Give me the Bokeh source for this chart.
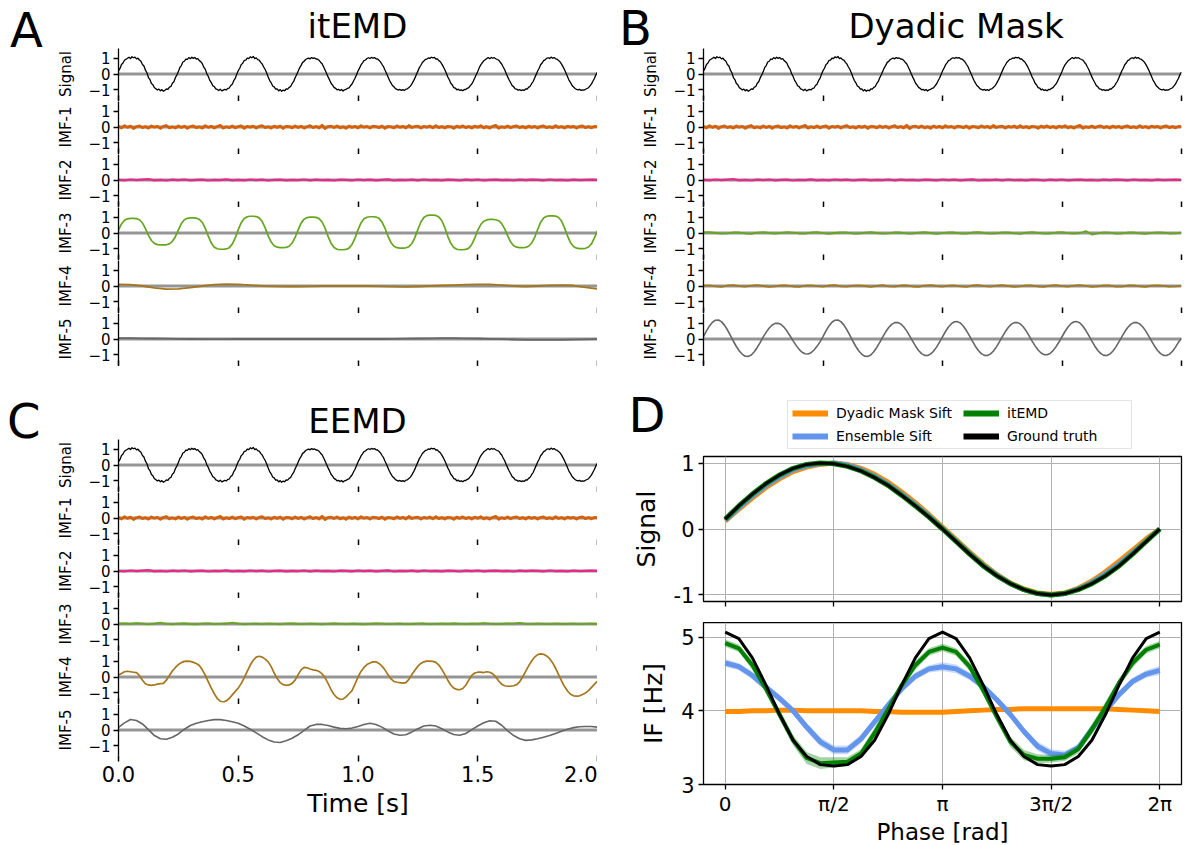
import numpy as np
from bokeh.plotting import figure
from bokeh.layouts import column, row
from bokeh.models import (Span, FixedTicker, Legend, LegendItem, CustomJSTickFormatter,
                          NumeralTickFormatter, Range1d, Div)
from bokeh.embed import file_html
from bokeh.resources import INLINE

FONT = "DejaVu Sans"

# ---------------- time-series data ----------------
signal = [
    0.20, 0.35, 0.60, 0.69, 0.86, 0.93, 0.99, 1.05, 0.97, 1.08, 1.02, 1.06, 0.95, 0.99, 0.88, 0.80, 0.60, 0.50, 0.24, 0.08,
    -0.22, -0.35, -0.60, -0.68, -0.86, -0.92, -1.00, -0.95, -1.05, -0.98, -1.08, -1.02, -0.94, -0.97, -0.83, -0.78, -0.58, -0.49, -0.23, -0.06,
    0.15, 0.41, 0.53, 0.75, 0.80, 0.94, 0.92, 1.03, 0.96, 1.05, 0.98, 1.04, 0.93, 0.96, 0.84, 0.77, 0.65, 0.43, 0.29, 0.02,
    -0.16, -0.40, -0.54, -0.74, -0.79, -0.93, -0.97, -1.04, -0.95, -1.06, -1.01, -0.96, -1.00, -0.90, -0.88, -0.72, -0.64, -0.42, -0.28, -0.01,
    0.21, 0.36, 0.59, 0.68, 0.85, 0.87, 1.00, 0.96, 1.08, 1.02, 1.10, 0.97, 1.01, 0.90, 0.87, 0.73, 0.63, 0.44, 0.28, 0.06,
    -0.19, -0.41, -0.55, -0.75, -0.81, -0.95, -0.93, -1.06, -0.98, -1.08, -1.01, -1.05, -0.94, -0.95, -0.84, -0.78, -0.60, -0.47, -0.24, -0.05,
    0.17, 0.39, 0.54, 0.73, 0.79, 0.91, 0.96, 1.00, 0.95, 1.03, 0.98, 1.01, 0.94, 0.93, 0.86, 0.74, 0.64, 0.45, 0.25, 0.03,
    -0.18, -0.37, -0.58, -0.70, -0.84, -0.90, -0.99, -0.96, -1.04, -0.97, -1.07, -0.99, -0.97, -0.90, -0.87, -0.74, -0.63, -0.44, -0.27, -0.04,
    0.19, 0.37, 0.57, 0.70, 0.84, 0.88, 0.97, 1.02, 0.97, 1.04, 1.00, 1.03, 0.95, 0.94, 0.86, 0.76, 0.61, 0.47, 0.25, 0.05,
    -0.17, -0.39, -0.56, -0.72, -0.80, -0.92, -0.96, -1.01, -0.97, -1.03, -0.98, -1.04, -0.95, -0.93, -0.85, -0.76, -0.62, -0.45, -0.26, -0.03,
    0.18, 0.40, 0.55, 0.72, 0.81, 0.92, 0.94, 1.01, 0.98, 1.05, 1.01, 1.04, 0.94, 0.95, 0.84, 0.77, 0.62, 0.46, 0.27, 0.04,
    -0.19, -0.36, -0.58, -0.69, -0.85, -0.88, -0.99, -0.95, -1.03, -0.99, -1.05, -0.97, -0.98, -0.90, -0.86, -0.73, -0.63, -0.46, -0.25, -0.05,
    0.16, 0.39, 0.57, 0.70, 0.83, 0.90, 0.97, 1.03, 0.96, 1.04, 0.99, 1.02, 0.96, 0.91, 0.87, 0.74, 0.63, 0.44, 0.27, 0.03,
    -0.18, -0.38, -0.55, -0.73, -0.80, -0.93, -0.95, -1.02, -0.98, -1.04, -1.00, -1.03, -0.94, -0.94, -0.84, -0.77, -0.61, -0.47, -0.25, -0.04,
    0.19, 0.36, 0.58, 0.69, 0.84, 0.89, 0.98, 1.02, 0.97, 1.06, 0.99, 1.03, 0.95, 0.93, 0.85, 0.76, 0.62, 0.45, 0.26, 0.05,
    -0.17, -0.40, -0.54, -0.72, -0.82, -0.91, -0.97, -1.00, -0.96, -1.03, -0.99, -1.01, -0.96, -0.91, -0.86, -0.74, -0.62, -0.44, -0.27, -0.03,
    0.12]

imf1_noise = [
    0.04, -0.07, 0.09, -0.03, 0.06, -0.10, 0.02, 0.08, -0.05, 0.03, -0.08, 0.07, -0.02, 0.05, -0.09, 0.04, 0.10, -0.06, 0.01, -0.07,
    0.08, -0.04, 0.06, -0.09, 0.03, 0.07, -0.05, 0.02, -0.08, 0.09, -0.03, 0.05, -0.07, 0.04, 0.11, -0.08, 0.02, -0.05, 0.07, -0.06,
    0.03, 0.08, -0.09, 0.05, -0.02, 0.06, -0.07, 0.04, 0.09, -0.05, 0.02, -0.08, 0.06, -0.03, 0.07, -0.10, 0.05, 0.03, -0.06, 0.08,
    -0.04, 0.06, -0.08, 0.02, 0.09, -0.05, 0.04, -0.07, 0.12, -0.11, 0.03, 0.06, -0.04, 0.08, -0.06, 0.02, -0.09, 0.07, -0.03, 0.05,
    -0.07, 0.09, -0.02, 0.04, -0.08, 0.06, 0.03, -0.05, 0.07, -0.09, 0.04, 0.02, -0.06, 0.08, -0.03, 0.05, -0.07, 0.10, -0.04, 0.03,
    0.06, -0.08, 0.04, -0.02, 0.07, -0.06, 0.09, -0.05, 0.03, -0.07, 0.05, 0.02, -0.09, 0.06, -0.03, 0.08, -0.05, 0.04, -0.07, 0.06,
    -0.02, 0.09, -0.06, 0.03, -0.08, 0.05, 0.11, -0.09, 0.02, -0.04, 0.07, -0.06, 0.04, 0.08, -0.05, 0.03, -0.07, 0.06, -0.03, 0.05,
    -0.08, 0.04, 0.07, -0.05, 0.02, -0.06, 0.09, -0.04, 0.03, -0.07, 0.06, -0.02, 0.05, -0.08, 0.04, 0.07, -0.05, 0.03, -0.06, 0.04,
    0.02]

imf2_noise = [
    0.01, -0.02, 0.03, -0.01, 0.02, 0.05, -0.02, 0.01, -0.03, 0.02, -0.01, 0.03, -0.02, 0.01, 0.02, -0.03, 0.01, -0.01, 0.04, -0.02,
    0.01, -0.02, 0.03, -0.01, 0.02, -0.03, 0.01, 0.02, -0.02, 0.01, -0.01, 0.03, -0.02, 0.02, -0.01, 0.01, -0.03, 0.02, 0.01, -0.02,
    0.03, -0.01, 0.02, -0.02, 0.01, 0.04, -0.03, 0.01, -0.01, 0.02, -0.02, 0.03, -0.01, 0.01, -0.02, 0.02, 0.01, -0.03, 0.02, -0.01,
    0.03, -0.02, 0.01, 0.02, -0.01, 0.01, -0.03, 0.02, -0.01, 0.02, 0.01, -0.02, 0.03, -0.01, 0.01, -0.02, 0.02, -0.01, 0.01, 0.02,
    0.0]

# itEMD
imf3_itemd = [
    0.18, 0.57, 0.80, 0.89, 0.92, 0.92, 0.90, 0.83, 0.63, 0.28, -0.15, -0.47, -0.65, -0.73, -0.75, -0.75, -0.74, -0.68, -0.52, -0.23,
    0.19, 0.59, 0.83, 0.92, 0.95, 0.95, 0.93, 0.86, 0.66, 0.29, -0.20, -0.63, -0.89, -0.99, -1.02, -1.02, -1.00, -0.92, -0.70, -0.31,
    0.21, 0.65, 0.91, 1.02, 1.05, 1.05, 1.03, 0.95, 0.72, 0.32, -0.18, -0.57, -0.80, -0.89, -0.92, -0.92, -0.90, -0.83, -0.63, -0.28,
    0.20, 0.62, 0.87, 0.97, 1.00, 1.00, 0.98, 0.90, 0.69, 0.30, -0.21, -0.65, -0.91, -1.02, -1.05, -1.05, -1.03, -0.95, -0.72, -0.32,
    0.20, 0.63, 0.89, 0.99, 1.02, 1.02, 1.00, 0.92, 0.70, 0.31, -0.19, -0.59, -0.83, -0.92, -0.95, -0.95, -0.93, -0.86, -0.66, -0.29,
    0.22, 0.69, 0.97, 1.09, 1.12, 1.12, 1.10, 1.01, 0.77, 0.34, -0.21, -0.65, -0.91, -1.02, -1.05, -1.05, -1.03, -0.95, -0.72, -0.32,
    0.17, 0.53, 0.74, 0.82, 0.85, 0.85, 0.83, 0.77, 0.59, 0.26, -0.18, -0.57, -0.80, -0.89, -0.92, -0.92, -0.90, -0.83, -0.63, -0.28,
    0.22, 0.67, 0.94, 1.05, 1.08, 1.08, 1.06, 0.97, 0.75, 0.32, -0.20, -0.61, -0.85, -0.95, -0.98, -0.98, -0.96, -0.88, -0.68, -0.29,
    0.15]
imf4_itemd = [0.10, 0.08, 0.0, -0.12, -0.20, -0.18, -0.10, 0.0, 0.08, 0.12, 0.10, 0.05, 0.0, -0.02, -0.03, -0.03, -0.02, 0.0,
              0.0, 0.0, 0.0, 0.0, -0.02, -0.04, -0.05, -0.03, 0.0, 0.03, 0.06, 0.08, 0.10, 0.10, 0.06, 0.0, -0.03, 0.0,
              0.04, 0.06, 0.03, -0.08, -0.18]
imf5_itemd = [0.06, 0.05, 0.04, 0.03, 0.02, 0.01, 0.0, -0.01, -0.01, -0.01, 0.0, 0.0, 0.0, 0.0, 0.0, 0.0, 0.0, 0.0, 0.0, 0.0,
              0.0, 0.0, 0.0, 0.01, 0.02, 0.03, 0.04, 0.05, 0.05, 0.04, 0.03, 0.01, -0.01, -0.03, -0.05, -0.06, -0.06, -0.05,
              -0.04, -0.02, -0.01]

# Dyadic mask
imf3_dyadic = [0.03, 0.05, 0.0, -0.04, -0.02, 0.04, 0.03, -0.03, -0.05, 0.02, 0.05, 0.0, -0.04, 0.01, 0.05, 0.02, -0.03, -0.04,
               0.03, 0.05, -0.01, -0.05, 0.0, 0.04, 0.03, -0.03, -0.04, 0.02, 0.05, 0.0, -0.04, -0.02, 0.04, 0.03, -0.03, -0.04,
               0.02, 0.05, 0.0, -0.05, -0.01, 0.04, 0.03, -0.03, -0.04, 0.03, 0.05, 0.0, -0.04, -0.02, 0.04, 0.04, -0.02, -0.05,
               0.02, 0.05, 0.01, -0.04, -0.03, 0.03, 0.05, -0.01, -0.04, 0.0, 0.12, -0.10, -0.03, 0.04, 0.02, -0.04, -0.03, 0.03,
               0.04, -0.02, -0.05, 0.01, 0.04, 0.02, -0.03, -0.02, 0.02]
imf4_dyadic = [0.02, 0.04, -0.02, -0.05, 0.03, 0.05, -0.01, -0.04, 0.02, 0.05, 0.0, -0.05, -0.02, 0.04, 0.03, -0.03, -0.05, 0.02,
               0.04, -0.01, -0.04, 0.03, 0.05, -0.02, -0.04, 0.02, 0.04, 0.0, -0.05, 0.01, 0.05, -0.02, -0.04, 0.03, 0.04, -0.03,
               -0.05, 0.02, 0.05, 0.0, -0.04, 0.02, 0.04, -0.02, -0.05, 0.03, 0.05, -0.01, -0.04, 0.02, 0.05, 0.0, -0.05, -0.02,
               0.04, 0.03, -0.03, -0.05, 0.02, 0.05, -0.01, -0.04, 0.02, 0.05, 0.01, -0.05, -0.02, 0.04, 0.03, -0.04, -0.04,
               0.03, 0.04, -0.02, -0.05, 0.02, 0.04, 0.01, -0.04, -0.02, 0.01]
imf5_dyadic = [
    0.15, 0.51, 0.82, 1.05, 1.18, 1.19, 1.09, 0.87, 0.58, 0.22, -0.14, -0.47, -0.75, -0.96, -1.08, -1.09, -1.00, -0.80, -0.53, -0.21,
    0.13, 0.43, 0.69, 0.88, 0.98, 0.99, 0.91, 0.73, 0.48, 0.19, -0.12, -0.40, -0.65, -0.83, -0.93, -0.94, -0.86, -0.69, -0.46, -0.18,
    0.15, 0.51, 0.82, 1.05, 1.18, 1.19, 1.09, 0.87, 0.58, 0.22, -0.14, -0.47, -0.75, -0.96, -1.08, -1.09, -1.00, -0.80, -0.53, -0.21,
    0.13, 0.45, 0.72, 0.92, 1.03, 1.04, 0.95, 0.77, 0.51, 0.20, -0.13, -0.45, -0.72, -0.92, -1.03, -1.04, -0.95, -0.77, -0.51, -0.20,
    0.14, 0.47, 0.75, 0.96, 1.08, 1.09, 1.00, 0.80, 0.53, 0.21, -0.13, -0.45, -0.72, -0.92, -1.03, -1.04, -0.95, -0.77, -0.51, -0.20,
    0.13, 0.45, 0.72, 0.92, 1.03, 1.04, 0.95, 0.77, 0.51, 0.20, -0.13, -0.43, -0.69, -0.88, -0.98, -0.99, -0.91, -0.73, -0.48, -0.19,
    0.14, 0.47, 0.75, 0.96, 1.08, 1.09, 1.00, 0.80, 0.53, 0.21, -0.13, -0.45, -0.72, -0.92, -1.03, -1.04, -0.95, -0.77, -0.51, -0.20,
    0.13, 0.45, 0.72, 0.92, 1.03, 1.04, 0.95, 0.77, 0.51, 0.20, -0.13, -0.45, -0.72, -0.92, -1.03, -1.04, -0.95, -0.77, -0.51, -0.20,
    0.05]

# EEMD
imf3_eemd = [0.02, 0.03, 0.01, 0.06, 0.02, -0.02, 0.03, 0.08, 0.01, -0.02, 0.02, 0.03, 0.00, -0.02, 0.02, 0.04, -0.01, 0.01,
             0.03, 0.09, 0.02, -0.02, 0.01, 0.02, -0.01, 0.02, 0.01, -0.02, 0.02, 0.03, 0.00, -0.01, 0.02, 0.01, -0.02, 0.01,
             0.03, 0.01, -0.01, 0.02, 0.00, -0.02, 0.01, 0.03, 0.02, -0.01, 0.01, 0.02, -0.01, 0.00, 0.02, 0.03, -0.01, 0.01,
             0.02, 0.00, 0.03, 0.01, -0.01, 0.02, 0.01, 0.06, 0.02, -0.01, 0.01, 0.03, 0.02, 0.07, 0.01, -0.01, 0.02, 0.01,
             -0.01, 0.02, 0.00, 0.01, 0.02, -0.01, 0.01, 0.02, 0.01]
imf4_eemd = [
    0.12, 0.22, 0.33, 0.36, 0.33, 0.30, 0.27, 0.10, -0.20, -0.42, -0.50, -0.52, -0.50, -0.45, -0.42, -0.40, -0.20, 0.10, 0.38, 0.60,
    0.78, 0.90, 0.98, 1.00, 0.98, 0.92, 0.85, 0.72, 0.45, 0.10, -0.30, -0.70, -1.05, -1.35, -1.52, -1.58, -1.50, -1.35, -1.12, -0.90,
    -0.70, -0.40, -0.05, 0.35, 0.75, 1.05, 1.25, 1.30, 1.25, 1.12, 0.95, 0.65, 0.25, -0.10, -0.35, -0.48, -0.52, -0.50, -0.40, -0.20,
    0.15, 0.45, 0.60, 0.58, 0.50, 0.45, 0.42, 0.35, 0.20, -0.05, -0.40, -0.80, -1.10, -1.30, -1.40, -1.38, -1.25, -1.05, -0.85, -0.45,
    0.00, 0.35, 0.60, 0.78, 0.88, 0.95, 0.95, 0.85, 0.68, 0.45, 0.15, -0.12, -0.28, -0.33, -0.35, -0.38, -0.35, -0.15, 0.15, 0.42,
    0.68, 0.85, 0.95, 1.00, 1.00, 0.98, 0.92, 0.75, 0.48, 0.15, -0.20, -0.50, -0.70, -0.78, -0.80, -0.72, -0.52, -0.20, 0.10, 0.25,
    0.30, 0.30, 0.28, 0.33, 0.30, 0.20, 0.02, -0.25, -0.45, -0.55, -0.58, -0.57, -0.55, -0.48, -0.30, 0.00, 0.35, 0.70, 1.00, 1.25,
    1.40, 1.45, 1.42, 1.32, 1.15, 0.90, 0.55, 0.15, -0.25, -0.60, -0.88, -1.08, -1.18, -1.20, -1.18, -1.10, -1.00, -0.85, -0.65, -0.45,
    -0.25]
imf5_eemd = [0.17, 0.45, 0.66, 0.60, 0.38, 0.02, -0.35, -0.55, -0.58, -0.45, -0.25, 0.05, 0.28, 0.42, 0.52, 0.60, 0.65, 0.65,
             0.60, 0.52, 0.42, 0.25, 0.05, -0.18, -0.42, -0.62, -0.75, -0.78, -0.68, -0.52, -0.30, -0.02, 0.25, 0.35, 0.35,
             0.28, 0.18, 0.10, 0.08, 0.12, 0.22, 0.35, 0.42, 0.35, 0.18, -0.05, -0.25, -0.33, -0.30, -0.12, 0.08, 0.25, 0.30,
             0.25, 0.08, -0.12, -0.28, -0.33, -0.22, 0.02, 0.25, 0.45, 0.58, 0.55, 0.30, -0.05, -0.35, -0.55, -0.65, -0.62,
             -0.55, -0.45, -0.35, -0.22, -0.08, 0.05, 0.15, 0.20, 0.22, 0.22, 0.18]

row_labels = ["Signal", "IMF-1", "IMF-2", "IMF-3", "IMF-4", "IMF-5"]
time_ticks = [0, 0.5, 1.0, 1.5, 2.0]

# ---------------- phase-aligned data (panel D) ----------------
sig_dyadic = [0.12, 0.30, 0.47, 0.63, 0.76, 0.87, 0.94, 0.98, 1.00, 0.98, 0.92, 0.83, 0.71, 0.56, 0.40, 0.22, 0.03,
              -0.16, -0.35, -0.53, -0.69, -0.82, -0.91, -0.97, -0.99, -0.97, -0.90, -0.79, -0.65, -0.49, -0.32, -0.15, 0.00]
sig_ensemble = [0.13, 0.32, 0.50, 0.66, 0.79, 0.90, 0.96, 0.99, 1.00, 0.97, 0.90, 0.80, 0.68, 0.53, 0.37, 0.20, 0.01,
                -0.18, -0.37, -0.55, -0.70, -0.83, -0.92, -0.98, -1.00, -0.98, -0.91, -0.81, -0.68, -0.53, -0.36, -0.18, 0.00]
sig_itemd = [0.15, 0.35, 0.53, 0.69, 0.82, 0.92, 0.98, 1.00, 0.99, 0.95, 0.88, 0.78, 0.66, 0.51, 0.35, 0.18, 0.00,
             -0.19, -0.38, -0.56, -0.71, -0.83, -0.92, -0.98, -1.00, -0.98, -0.92, -0.83, -0.71, -0.56, -0.38, -0.19, 0.00]
sig_truth = [0.15, 0.35, 0.53, 0.69, 0.82, 0.92, 0.98, 1.00, 0.99, 0.95, 0.88, 0.78, 0.66, 0.51, 0.35, 0.18, 0.00,
             -0.19, -0.38, -0.56, -0.71, -0.83, -0.92, -0.98, -1.00, -0.98, -0.92, -0.83, -0.71, -0.56, -0.38, -0.19, 0.00]

if_dyadic = [3.99, 3.99, 4.00, 4.00, 4.01, 4.01, 4.00, 4.00, 4.00, 4.00, 4.00, 3.99, 3.99, 3.98, 3.98, 3.98, 3.98,
             3.99, 4.00, 4.01, 4.02, 4.02, 4.03, 4.03, 4.03, 4.03, 4.03, 4.03, 4.03, 4.02, 4.01, 4.00, 3.99]
if_ensemble = [4.65, 4.60, 4.48, 4.32, 4.17, 4.00, 3.78, 3.58, 3.47, 3.47, 3.62, 3.85, 4.08, 4.30, 4.47, 4.57, 4.60,
               4.57, 4.47, 4.33, 4.15, 3.95, 3.72, 3.52, 3.42, 3.40, 3.50, 3.75, 4.00, 4.22, 4.40, 4.50, 4.55]
if_itemd = [4.92, 4.85, 4.62, 4.30, 3.95, 3.60, 3.36, 3.29, 3.30, 3.31, 3.42, 3.70, 4.02, 4.35, 4.62, 4.80, 4.86,
            4.80, 4.60, 4.28, 3.92, 3.58, 3.40, 3.35, 3.35, 3.37, 3.48, 3.75, 4.05, 4.38, 4.65, 4.83, 4.90]
if_truth = [5.07, 4.98, 4.72, 4.35, 3.95, 3.60, 3.38, 3.27, 3.25, 3.27, 3.38, 3.60, 3.95, 4.35, 4.72, 4.98, 5.07,
            4.98, 4.72, 4.35, 3.95, 3.60, 3.38, 3.27, 3.25, 3.27, 3.38, 3.60, 3.95, 4.35, 4.72, 4.98, 5.07]
sd_dyadic = [0.02] * 33
sd_ensemble = [0.05, 0.05, 0.05, 0.05, 0.05, 0.05, 0.06, 0.06, 0.06, 0.06, 0.06, 0.05, 0.05, 0.05, 0.05, 0.05, 0.06,
               0.06, 0.05, 0.05, 0.05, 0.05, 0.05, 0.06, 0.06, 0.06, 0.05, 0.05, 0.05, 0.05, 0.05, 0.05, 0.06]
sd_itemd = [0.05, 0.05, 0.06, 0.07, 0.07, 0.07, 0.08, 0.08, 0.07, 0.06, 0.06, 0.07, 0.07, 0.06, 0.06, 0.05, 0.05,
            0.05, 0.06, 0.07, 0.07, 0.07, 0.07, 0.06, 0.05, 0.05, 0.06, 0.07, 0.07, 0.06, 0.06, 0.05, 0.05]
method_names = ["Dyadic Mask Sift", "Ensemble Sift", "itEMD", "Ground truth"]
method_colors = ["darkorange", "cornflowerblue", "green", "black"]

# Dark2 colours for the IMF rows
C_IMF = ["black", "#d95f02", "#e7298a", "#66a61e", "#a6761d", "#666666"]

ROW_H = 51


def style_text_axis(ax, size):
    ax.major_label_text_font = FONT
    ax.major_label_text_font_size = size
    ax.major_label_text_color = "black"
    ax.axis_label_text_font = FONT
    ax.axis_label_text_font_style = "normal"
    ax.axis_label_text_color = "black"


def text_header(width, height, letter, letter_left, letter_base, title, title_center, title_base):
    """Panel letter and panel title; baselines are given in px from the strip's top (DejaVu baseline = 0.846 em)."""
    def span(txt, size, left, base, center=False):
        top = base - 0.846 * size
        shift = "transform:translateX(-50%);" if center else ""
        return (f'<span style="position:absolute;left:{left}px;top:{top:.1f}px;font-size:{size}px;'
                f'line-height:{size}px;white-space:nowrap;{shift}">{txt}</span>')
    html = (f'<div style="position:relative;width:{width}px;height:{height}px;overflow:visible;'
            f'font-family:\'{FONT}\';color:black;">'
            + span(letter, 48, letter_left, letter_base)
            + span(title, 34, title_center, title_base, center=True) + '</div>')
    return Div(text=html, width=width, height=height, margin=0, styles={"overflow": "visible"})


def make_row(series, ylabel, left, fw, right, last=False):
    p = figure(frame_width=fw, frame_height=ROW_H, x_range=Range1d(0, 2), y_range=Range1d(-1.6, 1.6),
               output_backend="svg", toolbar_location=None,
               min_border_left=left, min_border_right=right, min_border_top=0, min_border_bottom=0)
    p.outline_line_color = None
    p.xgrid.visible = False
    p.ygrid.visible = False
    p.add_layout(Span(location=0, dimension="width", line_color="#8a8a8a", line_width=3,
                      line_alpha=0.9, level="underlay"))
    for vals, color, width in series:
        t = np.linspace(0, 2, len(vals))
        p.line(t, vals, line_color=color, line_width=width, line_join="round")
    ya = p.yaxis[0]
    ya.ticker = FixedTicker(ticks=[-1, 0, 1])
    ya.major_label_overrides = {-1: "\u22121", 0: "0", 1: "1"}
    ya.axis_label = ylabel
    style_text_axis(ya, "15px")
    ya.axis_label_text_font_size = "15px"
    ya.major_tick_out = 5
    ya.major_tick_in = 0
    ya.minor_tick_line_color = None
    ya.axis_line_width = 1.3
    ya.major_tick_line_width = 1.3
    ya.major_label_standoff = 3
    ya.axis_label_standoff = 10
    xa = p.xaxis[0]
    xa.ticker = FixedTicker(ticks=time_ticks)
    xa.axis_line_color = None
    xa.minor_tick_line_color = None
    xa.major_tick_line_width = 1.5
    if last:
        xa.formatter = NumeralTickFormatter(format="0.0")
        xa.major_tick_out = 6
        xa.major_tick_in = 0
        xa.axis_label = "Time [s]"
        style_text_axis(xa, "21px")
        xa.axis_label_text_font_size = "25px"
        xa.major_label_standoff = 4
        xa.axis_label_standoff = 4
    else:
        xa.formatter = CustomJSTickFormatter(code="return '';")
        xa.major_label_text_font_size = "1px"
        xa.major_label_standoff = 0
        xa.major_tick_out = 2
        xa.major_tick_in = 4
    return p


def make_panel(rows_data, left, fw, right, last_labels):
    return [make_row(series, lab, left, fw, right, last=(last_labels and i == len(row_labels) - 1))
            for i, (lab, series) in enumerate(zip(row_labels, rows_data))]


rows_A = [[(signal, C_IMF[0], 1.3)], [(imf1_noise, C_IMF[1], 2.6)], [(imf2_noise, C_IMF[2], 2.2)],
          [(imf3_itemd, C_IMF[3], 1.7)], [(imf4_itemd, C_IMF[4], 1.8)], [(imf5_itemd, C_IMF[5], 1.8)]]
rows_B = [[(signal, C_IMF[0], 1.3)], [(imf1_noise, C_IMF[1], 2.6)], [(imf2_noise, C_IMF[2], 2.2)],
          [(imf3_dyadic, C_IMF[3], 1.8)], [(imf4_dyadic, C_IMF[4], 1.8)], [(imf5_dyadic, C_IMF[5], 1.6)]]
rows_C = [[(signal, C_IMF[0], 1.3)], [(imf1_noise, C_IMF[1], 2.6)], [(imf2_noise, C_IMF[2], 2.2)],
          [(imf3_eemd, C_IMF[3], 1.8)], [(imf4_eemd, C_IMF[4], 1.7)], [(imf5_eemd, C_IMF[5], 1.6)]]

LEFT_W = 118 + 479
RIGHT_W = 106 + 478 + 2
head_A = text_header(LEFT_W, 48, "A", 10, 47, "itEMD", 357.5, 38)
head_B = text_header(RIGHT_W, 48, "B", 22, 45, "Dyadic Mask", 359, 38)
head_C = text_header(LEFT_W, 73, "C", 7, 72, "EEMD", 357.5, 67)

figs_A = make_panel(rows_A, 118, 479, 0, False)
figs_B = make_panel(rows_B, 106, 478, 2, False)
figs_C = make_panel(rows_C, 118, 479, 0, True)

# ---------------- panel D ----------------
phase = np.linspace(0, 2 * np.pi, 33)
phase_ticks = [0, np.pi / 2, np.pi, 3 * np.pi / 2, 2 * np.pi]
xr = Range1d(-0.1 * np.pi, 2.1 * np.pi)

# strip above panel D: letter "D" as the y-axis tick label, plus the legend
HEAD_D_H = 84
head_D = figure(frame_width=478, frame_height=HEAD_D_H, x_range=Range1d(-0.1 * np.pi, 2.1 * np.pi),
                y_range=Range1d(HEAD_D_H, 0), output_backend="svg", toolbar_location=None,
                min_border_left=106, min_border_right=2, min_border_top=0, min_border_bottom=0)
head_D.xaxis.visible = False
head_D.xgrid.visible = False
head_D.ygrid.visible = False
head_D.outline_line_color = None
yd = head_D.yaxis[0]
yd.ticker = FixedTicker(ticks=[64])
yd.major_label_overrides = {64: "D"}
style_text_axis(yd, "48px")
yd.major_tick_line_color = None
yd.minor_tick_line_color = None
yd.axis_line_color = None
yd.major_tick_out = 0
yd.major_tick_in = 0
yd.major_label_standoff = 38

leg_renderers = [head_D.line(x=[-100.0], y=[-100.0], line_color=c, line_width=6) for c in method_colors]
order = [0, 2, 1, 3]   # fills rows: Dyadic | itEMD  /  Ensemble | Ground truth
legend = Legend(items=[LegendItem(label=method_names[i], renderers=[leg_renderers[i]]) for i in order],
                orientation="horizontal", ncols=2, location=(84, 1),
                label_text_font=FONT, label_text_font_size="14px", label_text_color="black",
                glyph_width=36, glyph_height=16, label_height=16, label_width=120,
                label_standoff=8, spacing=7, padding=4, margin=0,
                border_line_color="#cccccc", border_line_width=1, background_fill_alpha=1.0)
head_D.add_layout(legend)


def style_d(p, ylabel, yticks, ylabels, xlabels):
    p.outline_line_color = "black"
    p.outline_line_width = 1.3
    p.grid.grid_line_color = "#b0b0b0"
    p.grid.grid_line_width = 1
    ya = p.yaxis[0]
    ya.ticker = FixedTicker(ticks=yticks)
    ya.major_label_overrides = ylabels
    ya.axis_label = ylabel
    style_text_axis(ya, "21px")
    ya.axis_label_text_font_size = "25px"
    ya.major_tick_out = 5
    ya.major_tick_in = 0
    ya.minor_tick_line_color = None
    ya.major_label_standoff = 4
    ya.axis_label_standoff = 10
    ya.axis_line_color = None
    ya.major_tick_line_width = 1.3
    xa = p.xaxis[0]
    xa.ticker = FixedTicker(ticks=phase_ticks)
    xa.axis_line_color = None
    xa.minor_tick_line_color = None
    xa.major_tick_out = 5
    xa.major_tick_in = 0
    xa.major_tick_line_width = 1.3
    if xlabels:
        xa.formatter = CustomJSTickFormatter(
            code="const k = Math.round(tick / (Math.PI / 2)); return ['0', '\u03c0/2', '\u03c0', '3\u03c0/2', '2\u03c0'][k] || '';")
        style_text_axis(xa, "20px")
        xa.axis_label = "Phase [rad]"
        xa.axis_label_text_font_size = "23px"
        xa.major_label_standoff = 2
        xa.axis_label_standoff = 0
    else:
        xa.formatter = CustomJSTickFormatter(code="return '';")
        xa.major_label_text_font_size = "1px"
        xa.major_label_standoff = 0


pd1 = figure(frame_width=478, frame_height=145, x_range=xr, y_range=Range1d(-1.1, 1.1),
             output_backend="svg", toolbar_location=None,
             min_border_left=106, min_border_right=2, min_border_top=6, min_border_bottom=21)
style_d(pd1, "Signal", [-1, 0, 1], {-1: "-1", 0: "0", 1: "1"}, False)
for vals, col, w in zip([sig_dyadic, sig_ensemble, sig_itemd, sig_truth], method_colors, [5, 5, 5, 3]):
    pd1.line(phase, vals, line_color=col, line_width=w, line_join="round")

pd2 = figure(frame_width=478, frame_height=162, x_range=xr, y_range=Range1d(3.0, 5.2),
             output_backend="svg", toolbar_location=None,
             min_border_left=106, min_border_right=2, min_border_top=0, min_border_bottom=0)
style_d(pd2, "IF [Hz]", [3, 4, 5], {3: "3", 4: "4", 5: "5"}, True)
for vals, sd, col, w in zip([if_dyadic, if_ensemble, if_itemd, if_truth],
                            [sd_dyadic, sd_ensemble, sd_itemd, None], method_colors, [5, 5, 4, 3]):
    v = np.array(vals)
    if sd is not None:
        s = np.array(sd)
        pd2.varea(x=phase, y1=v - s, y2=v + s, fill_color=col, fill_alpha=0.35)
    pd2.line(phase, vals, line_color=col, line_width=w, line_join="round")

left_col = column(head_A, *figs_A, head_C, *figs_C, spacing=0)
right_col = column(head_B, *figs_B, head_D, pd1, pd2, spacing=0)
layout = row(left_col, right_col, spacing=0)

open("out.html", "w").write(file_html(layout, INLINE))
